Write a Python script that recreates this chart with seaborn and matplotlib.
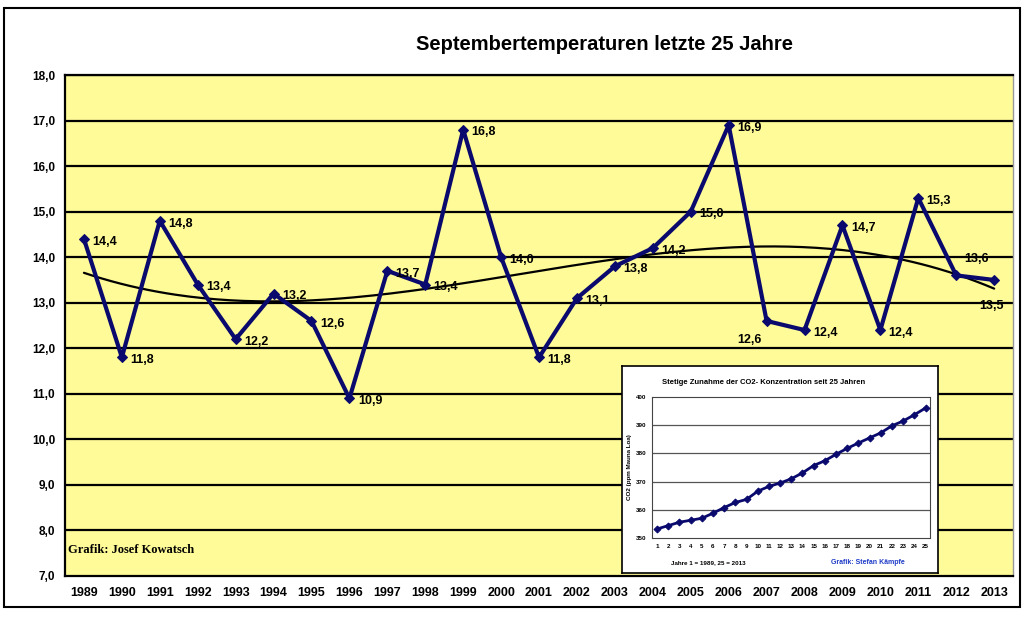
import numpy as np
import pandas as pd
import seaborn as sns
import matplotlib.pyplot as plt
from matplotlib.patches import Rectangle

sns.set_style("white")
plt.rcParams['font.family'] = ['Liberation Sans', 'DejaVu Sans']
plt.rcParams['text.color'] = 'black'
plt.rcParams['xtick.color'] = 'black'
plt.rcParams['ytick.color'] = 'black'
plt.rcParams['axes.labelcolor'] = 'black'

# September temperatures (deg C), 1989-2013
years = list(range(1989, 2014))
temps = [14.4, 11.8, 14.8, 13.4, 12.2, 13.2, 12.6, 10.9, 13.7, 13.4, 16.8, 14.0, 11.8,
         13.1, 13.8, 14.2, 15.0, 16.9, 12.6, 12.4, 14.7, 12.4, 15.3, 13.6, 13.5]
# CO2 Mauna Loa (ppm), year 1 = 1989 ... 25 = 2013
co2_idx = list(range(1, 26))
co2 = [353.2, 354.4, 355.6, 356.3, 357.0, 358.8, 360.8, 362.6, 363.7, 366.6, 368.3, 369.5,
       371.0, 373.1, 375.7, 377.4, 379.7, 381.8, 383.7, 385.5, 387.3, 389.8, 391.5, 393.7, 396.1]

df = pd.DataFrame({"idx": np.arange(len(years)), "temp": temps})
co2_df = pd.DataFrame({"jahr": co2_idx, "co2": co2})

yellow = '#FFFB98'
navy = '#0A0A6E'

fig = plt.figure(figsize=(10.25, 6.17), dpi=100)
fig.patch.set_facecolor('white')

ax = fig.add_axes([0.0634, 0.0665, 0.925, 0.8119])
ax.set_facecolor(yellow)

# polynomial trend (like Excel trendline)
coef = np.polyfit(df["idx"], df["temp"], 3)
xs = np.linspace(0, len(years) - 1, 200)
trend = pd.DataFrame({"x": xs, "y": np.polyval(coef, xs)})

for v in range(8, 19):
    ax.axhline(v, color='black', lw=1.6, zorder=1)

sns.lineplot(data=trend, x="x", y="y", ax=ax, color='black', lw=1.6, zorder=3)
sns.lineplot(data=df, x="idx", y="temp", ax=ax, color=navy, lw=3, marker='D',
             markersize=5, markeredgecolor=navy, zorder=4)

# data labels
special = {2007: (-12, -14, 'center'), 2012: (6, 12, 'left'), 2013: (-2, -19, 'center')}
for i, (yr, t) in enumerate(zip(years, temps)):
    dx, dy, ha = special.get(yr, (6, -2, 'left'))
    ax.annotate(f"{t:.1f}".replace('.', ','), (i, t), xytext=(dx, dy),
                textcoords='offset points', ha=ha, va='center',
                fontsize=9, fontweight='bold', zorder=5)

ax.set_xlim(-0.5, len(years) - 0.5)
ax.set_ylim(7, 18)
yt = list(range(7, 19))
ax.set_yticks(yt)
ax.set_yticklabels([f"{v:.1f}".replace('.', ',') for v in yt], fontsize=8.5, fontweight='bold')
ax.set_xticks(range(len(years)))
ax.set_xticklabels([str(y) for y in years], fontsize=9, fontweight='bold')
ax.set_xticks(np.arange(-0.5, len(years), 1), minor=True)
ax.tick_params(axis='x', which='major', length=0, pad=8)
ax.tick_params(axis='x', which='minor', length=4, width=1.2, direction='out', color='black')
ax.tick_params(axis='y', length=4, width=1.2, direction='out', color='black', pad=3)
ax.set_xlabel("")
ax.set_ylabel("")
for s in ['left', 'bottom', 'top']:
    ax.spines[s].set_color('black')
    ax.spines[s].set_linewidth(1.6)
ax.spines['right'].set_color('#999999')
ax.spines['right'].set_linewidth(1)

ax.text(0.003, 0.04, "Grafik: Josef Kowatsch", transform=ax.transAxes,
        family='Liberation Serif', fontsize=9, fontweight='bold', va='bottom', zorder=5)

fig.text(605 / 1025, 1 - 45 / 617, "Septembertemperaturen letzte 25 Jahre",
         ha='center', va='center', fontsize=14.5, fontweight='bold')

# inset box
box = fig.add_axes([0.6068, 0.0713, 0.3083, 0.3355], zorder=3)
box.set_facecolor('white')
box.set_xticks([])
box.set_yticks([])
for s in box.spines.values():
    s.set_color('black')
    s.set_linewidth(1.2)

ins = fig.add_axes([0.6361, 0.128, 0.2712, 0.2285], zorder=4)
ins.set_facecolor('white')
for v in range(360, 400, 10):
    ins.axhline(v, color='#555555', lw=0.9, zorder=1)
sns.lineplot(data=co2_df, x="jahr", y="co2", ax=ins, color=navy, lw=2, marker='D',
             markersize=3.5, markeredgecolor=navy, zorder=3)
ins.set_xlim(0.55, 25.4)
ins.set_ylim(350, 400)
ins.set_yticks(range(350, 401, 10))
ins.set_yticklabels([str(v) for v in range(350, 401, 10)], fontsize=4.5, fontweight='bold')
ins.set_xticks(co2_idx)
ins.set_xticklabels([str(v) for v in co2_idx], fontsize=4.5, fontweight='bold')
ins.tick_params(length=2, width=0.8, pad=2)
ins.set_xlabel("")
ins.set_ylabel("CO2 (ppm Mauna Loa)", fontsize=4.5, fontweight='bold', labelpad=3)
for s in ins.spines.values():
    s.set_color('#444444')
    s.set_linewidth(0.8)

fig.text(764 / 1025, 1 - 383 / 617, "Stetige Zunahme der CO2- Konzentration seit 25 Jahren",
         ha='center', va='center', fontsize=5.5, fontweight='bold', zorder=6)
fig.text(708 / 1025, 1 - 563 / 617, "Jahre 1 = 1989, 25 = 2013",
         ha='center', va='center', fontsize=4.5, fontweight='bold', zorder=6)
fig.text(868 / 1025, 1 - 563 / 617, "Grafik: Stefan Kämpfe",
         ha='center', va='center', fontsize=5, fontweight='bold', color='#1E3CC8', zorder=6)

# outer frame
fig.patches.append(Rectangle((0.004, 0.016), 0.991, 0.971, transform=fig.transFigure,
                             fill=False, edgecolor='black', lw=1.5))

fig.savefig("out.png", dpi=100)
